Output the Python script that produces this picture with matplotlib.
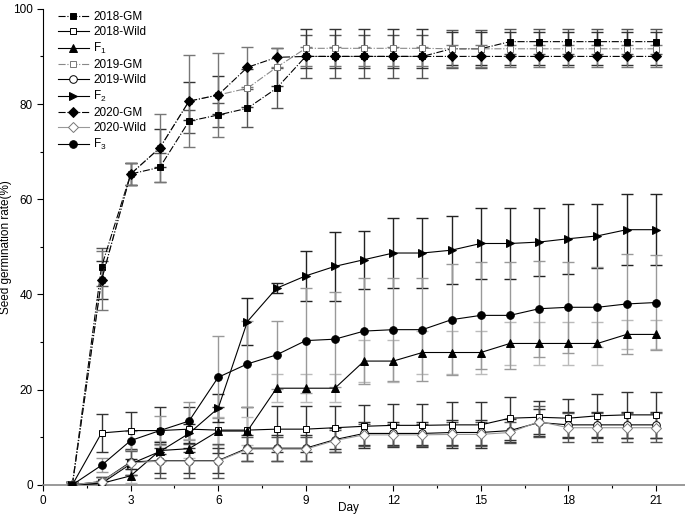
import matplotlib.pyplot as plt
import numpy as np

plt.rcParams['font.family'] = ['Liberation Sans', 'DejaVu Sans']
plt.rcParams['mathtext.default'] = 'regular'

days = np.arange(1, 22)

gm18 = [0, 45.8, 65.3, 66.7, 76.4, 77.7, 79.1, 83.3, 90, 90, 90, 90, 90,
        91.6, 91.6, 93.1, 93.1, 93.1, 93.1, 93.1, 93.1]
gm18_err = [0.5, 4, 2.3, 3, 2.4, 2.5, 4, 4.2, 4.6, 4.6, 4.6, 4.6, 4.6,
            4, 4, 2.6, 2.6, 2.6, 2.6, 2.6, 2.6]
wild18 = [0, 10.9, 11.4, 11.4, 11.7, 11.5, 11.5, 11.7, 11.7, 12.0, 12.3, 12.5,
          12.5, 12.6, 12.6, 14.0, 14.2, 14.0, 14.5, 14.7, 14.7]
wild18_err = [0.5, 4, 4, 5, 4.7, 4.8, 4.8, 4.8, 4.8, 4.5, 4.5, 4.5, 4.5,
              4.8, 4.8, 4.5, 3.5, 4, 4.5, 4.8, 4.8]
f1 = [0, 0.3, 1.9, 7.2, 7.6, 11.3, 11.3, 20.3, 20.3, 20.3, 26.0, 26.0, 27.8,
      27.8, 27.8, 29.7, 29.7, 29.7, 29.7, 31.6, 31.6]
f1_err = [0.5, 0.5, 1.5, 2, 2, 3, 3, 3, 3, 3, 4.5, 4.5, 4.5, 4.5, 4.5,
          4.5, 4.5, 4.5, 4.5, 3, 3]
gm19 = [0, 43.0, 65.3, 70.8, 80.6, 81.9, 83.3, 87.7, 91.7, 91.7, 91.7, 91.7,
        91.7, 91.6, 91.6, 91.6, 91.6, 91.6, 91.6, 91.6, 91.6]
gm19_err = [0.5, 4, 2.3, 4, 4, 4, 4, 4, 4.1, 4.1, 4.1, 4.1, 4.1,
            3.5, 3.5, 3.5, 3.5, 3.5, 3.5, 3.5, 3.5]
wild19 = [0, 0.7, 4.8, 5.1, 5.1, 5.1, 7.7, 7.7, 7.7, 9.5, 10.8, 10.8, 10.8,
          11.0, 11.0, 11.4, 13.1, 12.6, 12.6, 12.6, 12.6]
wild19_err = [0.5, 1, 2.7, 2.7, 2.7, 2.7, 2.7, 2.7, 2.7, 2.5, 2.5, 2.5, 2.5,
              2.7, 2.7, 2.5, 2.8, 2.7, 2.7, 2.7, 2.7]
f2 = [0, 0.3, 4.4, 7.0, 10.8, 16.1, 34.3, 41.3, 43.9, 45.9, 47.3, 48.7, 48.7,
      49.3, 50.7, 50.7, 51.0, 51.7, 52.3, 53.6, 53.6]
f2_err = [0.5, 0.5, 1, 2, 2, 3, 5, 1.1, 5.3, 7.2, 6.1, 7.4, 7.4, 7.1, 7.4,
          7.4, 7.2, 7.4, 6.7, 7.4, 7.4]
gm20 = [0, 43.0, 65.3, 70.8, 80.6, 81.9, 87.7, 89.8, 90, 90, 90, 90, 90,
        90, 90, 90, 90, 90, 90, 90, 90]
gm20_err = [0.5, 6.2, 2.3, 7.1, 9.6, 8.8, 4.2, 2, 2, 2, 2, 2, 2,
            2.3, 2.3, 2.3, 2.3, 2.3, 2.3, 2.3, 2.3]
wild20 = [0, 0.7, 4.6, 5.0, 5.0, 5.0, 7.5, 7.5, 7.5, 9.3, 10.5, 10.5, 10.5,
          10.6, 10.6, 11.0, 13.3, 12.0, 12.0, 12.0, 12.0]
wild20_err = [0.5, 1, 2.5, 3.5, 3.5, 3.5, 2.5, 2.5, 2.5, 2.3, 2.3, 2.3, 2.3,
              2.5, 2.5, 2.3, 3.2, 3, 3, 3, 3]
f3 = [0, 4.1, 9.3, 11.4, 13.4, 22.6, 25.4, 27.3, 30.3, 30.6, 32.3, 32.6, 32.6,
      34.7, 35.6, 35.6, 37.0, 37.3, 37.3, 38.0, 38.3]
f3_err = [0.5, 1.5, 2, 3, 4, 8.6, 9, 7.2, 11, 10, 11.2, 10.8, 10.8, 11.7,
          11.2, 11.2, 10.1, 9.5, 8.4, 10.5, 10]

# (label, values, errors, marker, filled, linestyle, line colour, errorbar colour)
series = [
    ('2018-GM', gm18, gm18_err, 's', True, '-.', 'black', '#555555'),
    ('2018-Wild', wild18, wild18_err, 's', False, '-', 'black', '#333333'),
    ('F$_1$', f1, f1_err, '^', True, '-', 'black', '#bbbbbb'),
    ('2019-GM', gm19, gm19_err, 's', False, '-.', '#888888', '#333333'),
    ('2019-Wild', wild19, wild19_err, 'o', False, '-', 'black', '#333333'),
    ('F$_2$', f2, f2_err, '>', True, '-', 'black', '#222222'),
    ('2020-GM', gm20, gm20_err, 'D', True, '-.', 'black', '#777777'),
    ('2020-Wild', wild20, wild20_err, 'D', False, '-', '#999999', '#555555'),
    ('F$_3$', f3, f3_err, 'o', True, '-', 'black', '#999999'),
]

fig = plt.figure(figsize=(6.85, 5.18), dpi=100)
ax = fig.add_axes([0.063, 0.064, 0.937, 0.919])

handles = []
for label, vals, err, mk, filled, ls, lc, ec in series:
    ax.errorbar(days, vals, yerr=err, fmt='none', ecolor=ec, elinewidth=1.0,
                capsize=4.5, capthick=1.0, zorder=2)
    ms = {'D': 4.8, 's': 5.0}.get(mk, 5.5)
    h, = ax.plot(days, vals, linestyle=ls, color=lc, linewidth=0.8,
                 marker=mk, markersize=ms,
                 markerfacecolor='black' if filled else 'white',
                 markeredgecolor='black' if lc == 'black' else '#777777',
                 markeredgewidth=0.7, label=label, zorder=3)
    handles.append(h)

ax.set_xlim(0, 22)
ax.set_ylim(0, 100)
ax.set_xticks(np.arange(0, 22, 3))
ax.set_xticks(np.arange(1.5, 22, 3), minor=True)
ax.set_yticks(np.arange(0, 101, 20))
ax.set_yticks(np.arange(10, 100, 20), minor=True)
ax.tick_params(labelsize=8.5, length=4, width=0.8)
ax.tick_params(which='minor', length=2.5, width=0.8)
ax.spines['top'].set_visible(False)
ax.spines['right'].set_visible(False)
ax.spines['bottom'].set_color('#888888')
ax.spines['bottom'].set_linewidth(1.2)

ax.set_xlabel('Day', fontsize=8.5)
ax.xaxis.set_label_coords(0.475, -0.035)
ax.set_ylabel('Seed germination rate(%)', fontsize=8.5)
ax.yaxis.set_label_coords(-0.048, 0.5)

ax.legend(handles=handles, loc='upper left', bbox_to_anchor=(0.012, 1.01),
          frameon=False, fontsize=8.5, handlelength=2.6, handletextpad=0.4,
          labelspacing=0.25, borderaxespad=0.2)

fig.savefig('out.png', dpi=100)
